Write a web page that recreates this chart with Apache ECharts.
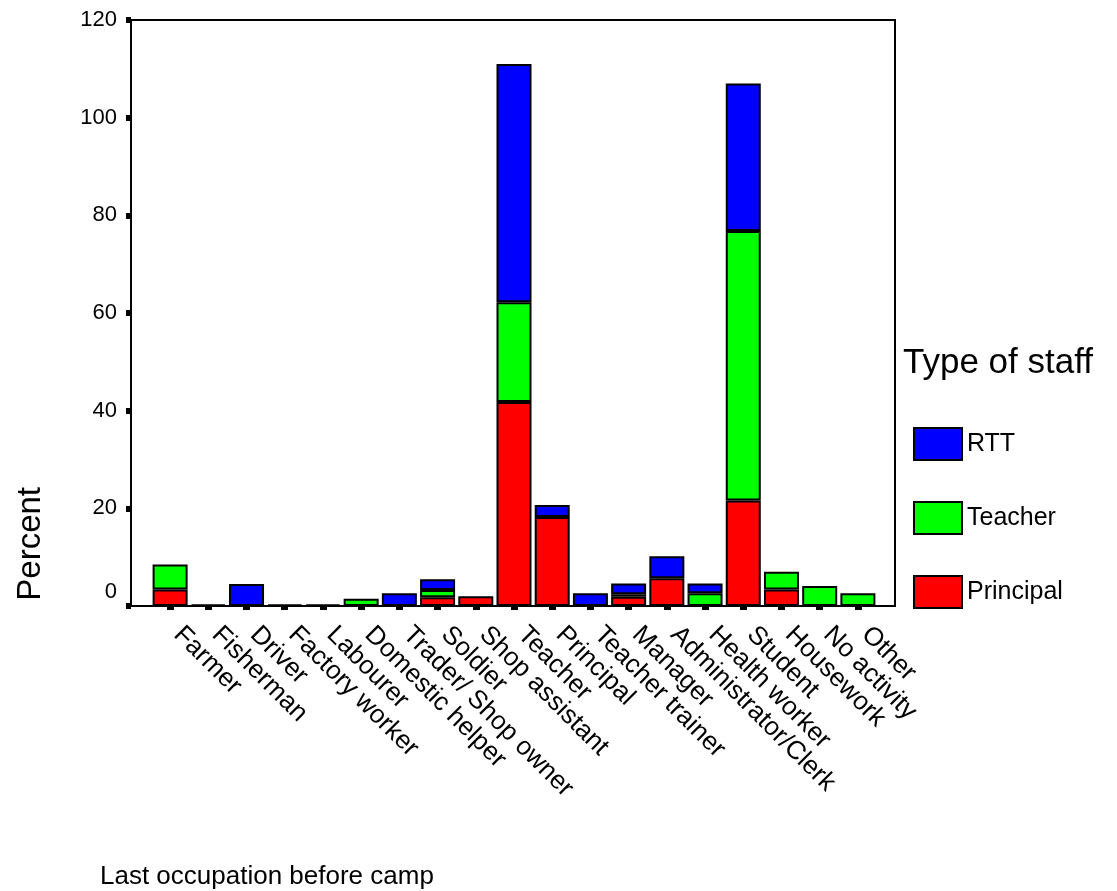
<!DOCTYPE html>
<html>
<head>
<meta charset="utf-8">
<script src="https://cdn.jsdelivr.net/npm/echarts@6/dist/echarts.min.js"></script>
<style>
html,body{margin:0;padding:0;background:#fff;}
#chart{width:1117px;height:891px;}
</style>
</head>
<body>
<div id="chart"></div>
<script>
const categories = ['Farmer','Fisherman','Driver','Factory worker','Labourer','Domestic helper','Trader/ Shop owner','Soldier','Shop assistant','Teacher','Principal','Teacher trainer','Manager','Administrator/Clerk','Health worker','Student','Housework','No activity','Other'];
const principalValues = [3.4, 0.3, 0, 0.3, 0.3, 0, 0, 1.8, 2.0, 41.8, 18.2, 0, 1.9, 5.7, 0, 21.6, 3.4, 0, 0];
const teacherValues   = [5.1, 0, 0, 0, 0, 1.5, 0, 1.5, 0, 20.4, 0, 0, 0.5, 0, 2.6, 55.2, 3.6, 4.1, 2.6];
const rttValues       = [0, 0, 4.5, 0, 0, 0, 2.6, 2.2, 0, 48.8, 2.5, 2.6, 2.2, 4.5, 2.0, 30.2, 0, 0, 0];
const yTicks = {min: 0, max: 120, interval: 20};

const FONT = 'Liberation Sans, Arial, sans-serif';
const clean = arr => arr.map(v => v === 0 ? null : v);

const chart = echarts.init(document.getElementById('chart'), null, {renderer: 'canvas'});
const barStyle = c => ({color: c, borderColor: '#000', borderWidth: 2});

chart.setOption({
  animation: false,
  backgroundColor: '#fff',
  title: [
    {text: 'Type of staff', left: 903, top: 346, padding: 0, textStyle: {fontFamily: FONT, fontSize: 35, fontWeight: 'normal', color: '#000'}},
    {text: 'Last occupation before camp', left: 100, top: 864, padding: 0, textStyle: {fontFamily: FONT, fontSize: 26, fontWeight: 'normal', color: '#000'}}
  ],
  graphic: [
    {type: 'text', left: 14, top: 487, rotation: Math.PI / 2,
     style: {text: 'Percent', font: 'normal 33px ' + FONT, fill: '#000'}}
  ],
  legend: {
    orient: 'vertical', left: 913, top: 427, padding: 0,
    itemWidth: 48, itemHeight: 32, itemGap: 40, icon: 'rect',
    data: ['RTT', 'Teacher', 'Principal'],
    textStyle: {fontFamily: FONT, fontSize: 25, color: '#000'},
    selectedMode: false
  },
  grid: [
    {left: 151, width: 726, top: 20, height: 586, containLabel: false},
    {left: 131, width: 764, top: 20, height: 586, show: true, borderColor: '#000', borderWidth: 2, backgroundColor: 'transparent', z: 0}
  ],
  xAxis: [
    {type: 'category', gridIndex: 0, data: categories, boundaryGap: true,
     axisLine: {show: true, lineStyle: {color: '#000', width: 2}},
     axisTick: {show: true, alignWithLabel: true, interval: 0, length: 4, lineStyle: {color: '#000', width: 7}},
     axisLabel: {interval: 0, rotate: -45, margin: 17, padding: [0, 0, 0, 11], fontFamily: FONT, fontSize: 26, color: '#000'}},
    {type: 'value', gridIndex: 1, show: false, min: 0, max: 1}
  ],
  yAxis: [
    {type: 'value', gridIndex: 0, min: yTicks.min, max: yTicks.max, interval: yTicks.interval, offset: 20,
     splitLine: {show: false},
     axisLine: {show: true, lineStyle: {color: '#000', width: 2}},
     axisTick: {show: true, length: 5, lineStyle: {color: '#000', width: 6}},
     axisLabel: {margin: 14, fontFamily: FONT, fontSize: 22, color: '#000',
       formatter: v => v === 0 ? '{z|0}' : String(v),
       rich: {z: {fontFamily: FONT, fontSize: 22, color: '#000', padding: [0, 0, 28, 0]}}}},
    {type: 'value', gridIndex: 1, show: false, min: 0, max: 1}
  ],
  series: [
    {name: 'Principal', type: 'bar', stack: 's', xAxisIndex: 0, yAxisIndex: 0, barWidth: 35, itemStyle: barStyle('#ff0000'), data: clean(principalValues)},
    {name: 'Teacher', type: 'bar', stack: 's', xAxisIndex: 0, yAxisIndex: 0, barWidth: 35, itemStyle: barStyle('#00ff00'), data: clean(teacherValues)},
    {name: 'RTT', type: 'bar', stack: 's', xAxisIndex: 0, yAxisIndex: 0, barWidth: 35, itemStyle: barStyle('#0000ff'), data: clean(rttValues)}
  ]
});
</script>
</body>
</html>
